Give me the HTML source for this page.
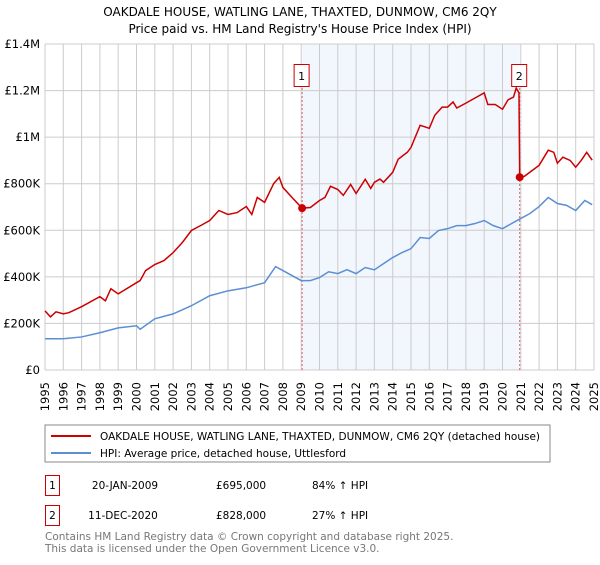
<!DOCTYPE html>
<html><head><meta charset="utf-8"><style>
body{margin:0;background:#fff;font-family:"Liberation Sans","DejaVu Sans",sans-serif;}
</style></head><body>
<svg width="600" height="560" xmlns="http://www.w3.org/2000/svg" font-family="DejaVu Sans, Liberation Sans, sans-serif">
<text x="300" y="16" text-anchor="middle" font-size="12">OAKDALE HOUSE, WATLING LANE, THAXTED, DUNMOW, CM6 2QY</text>
<text x="300" y="33" text-anchor="middle" font-size="12">Price paid vs. HM Land Registry's House Price Index (HPI)</text>
<g id="plot"></g>
<rect x="45" y="425" width="505" height="37" fill="#fff" stroke="#888"/>
<line x1="51" y1="436" x2="91" y2="436" stroke="#cc0000" stroke-width="2"/>
<text x="100" y="440" font-size="10.5">OAKDALE HOUSE, WATLING LANE, THAXTED, DUNMOW, CM6 2QY (detached house)</text>
<line x1="51" y1="453" x2="91" y2="453" stroke="#5b8fd4" stroke-width="2"/>
<text x="100" y="457" font-size="10.5">HPI: Average price, detached house, Uttlesford</text>
<g font-size="10.5">
<rect x="45.5" y="475.5" width="14" height="20" fill="#fff" stroke="#cc0000"/>
<text x="52.5" y="489" text-anchor="middle">1</text>
<text x="125" y="489" text-anchor="middle">20-JAN-2009</text>
<text x="216" y="489">£695,000</text>
<text x="312" y="489">84% ↑ HPI</text>
<rect x="45.5" y="505.5" width="14" height="20" fill="#fff" stroke="#cc0000"/>
<text x="52.5" y="519" text-anchor="middle">2</text>
<text x="123" y="519" text-anchor="middle">11-DEC-2020</text>
<text x="216" y="519">£828,000</text>
<text x="312" y="519">27% ↑ HPI</text>
</g>
<text x="45" y="540" font-size="10.5" fill="#777">Contains HM Land Registry data © Crown copyright and database right 2025.</text>
<text x="45" y="552" font-size="10.5" fill="#777">This data is licensed under the Open Government Licence v3.0.</text>
</svg>
<script>
const hpiYears=[1995,1996,1997,1998,1999,2000,2000.2,2001,2002,2003,2004,2005,2006,2007,2007.6,2008,2009,2009.5,2010,2010.5,2011,2011.5,2012,2012.5,2013,2013.5,2014,2014.5,2015,2015.5,2016,2016.5,2017,2017.5,2018,2018.5,2019,2019.5,2020,2020.5,2021,2021.5,2022,2022.5,2023,2023.5,2024,2024.5,2024.9];
const hpiValues=[134000,134000,142000,160000,181000,190000,175000,220000,241000,276000,319000,340000,353000,375000,444000,427000,384000,384000,397000,422000,414000,431000,414000,440000,430000,457000,483000,504000,521000,569000,565000,599000,607000,620000,620000,629000,642000,620000,607000,629000,651000,672000,702000,741000,715000,707000,685000,728000,710000];
const priceYears=[1995,1995.3,1995.6,1996,1996.3,1997,1998,1998.3,1998.6,1999,2000,2000.2,2000.5,2001,2001.5,2002,2002.5,2003,2003.5,2004,2004.5,2005,2005.5,2006,2006.3,2006.6,2007,2007.5,2007.8,2008,2008.5,2009.05,2009.5,2010,2010.3,2010.6,2011,2011.3,2011.7,2012,2012.5,2012.8,2013,2013.3,2013.5,2014,2014.3,2014.8,2015,2015.5,2016,2016.3,2016.7,2017,2017.3,2017.5,2018,2018.5,2019,2019.2,2019.6,2020,2020.3,2020.6,2020.75,2020.9,2020.94,2021.2,2022,2022.5,2022.8,2023,2023.3,2023.7,2024,2024.3,2024.6,2024.9];
const priceValues=[254000,228000,250000,241000,246000,272000,315000,297000,349000,327000,375000,384000,427000,453000,470000,504000,547000,599000,620000,642000,685000,668000,676000,702000,668000,741000,720000,801000,827000,784000,741000,695000,698000,728000,741000,789000,775000,750000,797000,758000,819000,780000,806000,820000,806000,849000,905000,935000,956000,1051000,1038000,1094000,1129000,1129000,1151000,1125000,1146000,1168000,1190000,1140000,1140000,1120000,1160000,1172000,1211000,1190000,828000,832000,879000,944000,935000,888000,914000,900000,871000,900000,935000,901000];
const sales=[{n:"1",year:2009.05,value:695000},{n:"2",year:2020.94,value:828000}];
const yTicks=[0,200000,400000,600000,800000,1000000,1200000,1400000];
const yTickLabels=["£0","£200K","£400K","£600K","£800K","£1M","£1.2M","£1.4M"];
const xTicks=[];for(let y=1995;y<=2025;y++)xTicks.push(y);
const X0=45,X1=594,Y0=370,Y1=44;
const xs=y=>X0+(y-1995)/30*(X1-X0);
const ys=v=>Y0-v/1400000*(Y0-Y1);
const NS="http://www.w3.org/2000/svg";
const g=document.getElementById('plot');
function mk(t,a,p){const e=document.createElementNS(NS,t);for(const k in a)e.setAttribute(k,a[k]);(p||g).appendChild(e);return e;}
let e=mk('rect',{x:xs(sales[0].year),y:Y1,width:xs(sales[1].year)-xs(sales[0].year),height:Y0-Y1,fill:'#f2f6fd'});


xTicks.forEach(t=>{const l=mk('line',{x1:xs(t),x2:xs(t),y1:Y1,y2:Y0,stroke:'#ccc','stroke-width':1});


const tx=mk('text',{x:0,y:0,'font-size':11.5,'text-anchor':'end',transform:`translate(${xs(t)+4},382) rotate(-90)`});tx.textContent=t;

});
yTicks.forEach((t,i)=>{const l=mk('line',{x1:X0,x2:X1,y1:ys(t),y2:ys(t),stroke:'#ccc','stroke-width':1});


const tx=mk('text',{x:40,y:ys(t)+4,'font-size':11.5,'text-anchor':'end'});tx.textContent=yTickLabels[i];

});
sales.forEach(s=>{const l=mk('line',{x1:xs(s.year),x2:xs(s.year),y1:Y1+44,y2:Y0,stroke:'#e06060','stroke-dasharray':'2,2','stroke-width':1});

});
const hp=mk('polyline',{points:hpiYears.map((y,i)=>xs(y)+','+ys(hpiValues[i])).join(' '),fill:'none',stroke:'#5b8fd4','stroke-width':1.5});


const pp=mk('polyline',{points:priceYears.map((y,i)=>xs(y)+','+ys(priceValues[i])).join(' '),fill:'none',stroke:'#cc0000','stroke-width':1.5});


sales.forEach(s=>{const c=mk('circle',{cx:xs(s.year),cy:ys(s.value),r:4,fill:'#cc0000'});


const r=mk('rect',{x:xs(s.year)-8,y:64.5,width:15,height:22,fill:'#fff',stroke:'#cc0000'});


const t=mk('text',{x:xs(s.year)-0.5,y:80,'font-size':11,'text-anchor':'middle'});t.textContent=s.n;

});
</script>
</body></html>
